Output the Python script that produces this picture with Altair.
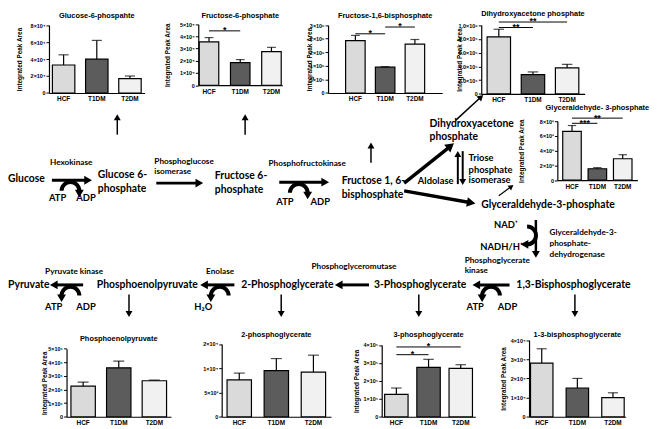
import math
import altair as alt
import pandas as pd

# ---------------- data ----------------
groups = ["HCF", "T1DM", "T2DM"]

g6p_mean = [3.3e4, 4.0e4, 1.7e4]
g6p_upper = [4.5e4, 6.2e4, 2.0e4]
f6p_mean = [3.55e4, 1.85e4, 2.75e4]
f6p_upper = [3.9e4, 2.1e4, 3.1e4]
f16bp_mean = [1.93e6, 0.95e6, 1.8e6]
f16bp_upper = [2.12e6, 0.97e6, 1.97e6]
dhap_mean = [8.3e5, 2.8e5, 3.8e5]
dhap_upper = [9.4e5, 3.2e5, 4.3e5]
g3p_mean = [6.6e3, 1.55e3, 2.9e3]
g3p_upper = [7.4e3, 1.7e3, 3.45e3]
pep_mean = [2.25e5, 3.6e5, 2.65e5]
pep_upper = [2.55e5, 4.1e5, 2.7e5]
pg2_mean = [7.6e3, 9.5e3, 9.2e3]
pg2_upper = [9.0e3, 1.2e4, 1.27e4]
pg3_mean = [1.25e5, 2.75e5, 2.7e5]
pg3_upper = [1.6e5, 3.2e5, 2.9e5]
bpg_mean = [2.8e4, 1.5e4, 1.0e4]
bpg_upper = [3.55e4, 2.0e4, 1.25e4]

g6p_ticks = [0, 2e4, 4e4, 6e4, 8e4]
g6p_labels = ["0", "2×10⁴", "4×10⁴", "6×10⁴", "8×10⁴"]
f6p_ticks = [0, 1e4, 2e4, 3e4, 4e4, 5e4]
f6p_labels = ["0", "1×10⁴", "2×10⁴", "3×10⁴", "4×10⁴", "5×10⁴"]
f16bp_ticks = [0, 5e5, 1e6, 1.5e6, 2e6, 2.5e6]
f16bp_labels = ["0", "5×10⁵", "1×10⁶", "2×10⁶", "2×10⁶", "3×10⁶"]
dhap_ticks = [0, 2e5, 4e5, 6e5, 8e5, 1e6]
dhap_labels = ["0", "2.0×10⁵", "4.0×10⁵", "6.0×10⁵", "8.0×10⁵", "1.0×10⁶"]
g3p_ticks = [0, 2e3, 4e3, 6e3, 8e3]
g3p_labels = ["0", "2×10³", "4×10³", "6×10³", "8×10³"]
pep_ticks = [0, 1e5, 2e5, 3e5, 4e5, 5e5]
pep_labels = ["0", "1×10⁵", "2×10⁵", "3×10⁵", "4×10⁵", "5×10⁵"]
pg2_ticks = [0, 5e3, 1e4, 1.5e4]
pg2_labels = ["0", "5×10³", "1×10⁴", "2×10⁴"]
pg3_ticks = [0, 1e5, 2e5, 3e5, 4e5]
pg3_labels = ["0", "1×10⁵", "2×10⁵", "3×10⁵", "4×10⁵"]
bpg_ticks = [0, 1e4, 2e4, 3e4, 4e4]
bpg_labels = ["0", "1×10⁴", "2×10⁴", "3×10⁴", "4×10⁴"]

f6p_sig = [("HCF", "T1DM", 4.45e4, "*")]
f16bp_sig = [("HCF", "T1DM", 2.18e6, "*"), ("T1DM", "T2DM", 2.43e6, "*")]
dhap_sig = [("HCF", "T1DM", 9.65e5, "**"), ("HCF", "T2DM", 1.045e6, "**")]
g3p_sig = [("HCF", "T1DM", 7.7e3, "***"), ("HCF", "T2DM", 8.4e3, "**")]
pg3_sig = [("HCF", "T1DM", 3.46e5, "*"), ("HCF", "T2DM", 3.89e5, "*")]

# ---------------- layout / style ----------------
W, H = 652, 421          # drawable area inside the 8px page margin
REF_W, REF_H = 660, 429  # layout coordinates below are figure pixels


def TX(x):
    return x * W / REF_W


def TY(y):
    return y * H / REF_H


FONT = "Liberation Sans"
DFONT = "Lato"
fills = ["#dadada", "#5c5c5c", "#f1f1f1"]

panels = [
    ("Glucose-6-phospahte", g6p_mean, g6p_upper, g6p_ticks, g6p_labels, [],
     dict(ax=42, c1=57, s=34, bw=23, yt=15, yb=85, ty=6, ytx=12)),
    ("Fructose-6-phosphate", f6p_mean, f6p_upper, f6p_ticks, f6p_labels, f6p_sig,
     dict(ax=195, c1=206, s=32, bw=20, yt=14, yb=77, ty=6, ytx=163)),
    ("Fructose-1,6-bisphosphate", f16bp_mean, f16bp_upper, f16bp_ticks, f16bp_labels, f16bp_sig,
     dict(ax=328, c1=356, s=30.5, bw=20, yt=15, yb=85, ty=6, ytx=309)),
    ("Dihydroxyacetone phosphate", dhap_mean, dhap_upper, dhap_ticks, dhap_labels, dhap_sig,
     dict(ax=485, c1=503, s=35, bw=24, yt=15, yb=86, ty=3.5, ytx=463)),
    ("Glyceraldehyde- 3-phosphate", g3p_mean, g3p_upper, g3p_ticks, g3p_labels, g3p_sig,
     dict(ax=563, c1=578, s=26, bw=19, yt=114, yb=175, ty=101, ytx=526)),
    ("Phosphoenolpyruvate", pep_mean, pep_upper, pep_ticks, pep_labels, [],
     dict(ax=60, c1=77, s=36.5, bw=25, yt=349, yb=419, ty=339, ytx=37)),
    ("2-phosphoglycerate", pg2_mean, pg2_upper, pg2_ticks, pg2_labels, [],
     dict(ax=219, c1=237, s=38, bw=25, yt=344, yb=419, ty=335, ytx=None)),
    ("3-phosphoglycerate", pg3_mean, pg3_upper, pg3_ticks, pg3_labels, pg3_sig,
     dict(ax=383, c1=398, s=33, bw=24, yt=345, yb=419, ty=335, ytx=357)),
    ("1-3-bisphosphoglycerate", bpg_mean, bpg_upper, bpg_ticks, bpg_labels, [],
     dict(ax=534, c1=547, s=36.5, bw=23, yt=340, yb=419, ty=335, ytx=508)),
]


def label_expr(ticks, labels):
    expr = "''"
    for v, l in reversed(list(zip(ticks, labels))):
        expr = f"datum.value == {float(v)!r} ? '{l}' : ({expr})"
    return expr


def make_panel(title, mean, upper, ticks, labels, sig, L):
    df = pd.DataFrame({"group": groups, "mean": mean, "upper": upper})
    ax, c1, s, bw = TX(L["ax"]), TX(L["c1"]), TX(L["s"]), TX(L["bw"])
    yt, yb = TY(L["yt"]), TY(L["yb"])
    pin = 1 - bw / s
    pout = max(0.0, (c1 - ax) / s - bw / (2 * s))
    r0 = ax
    r1 = 2 * c1 + 2 * s - ax
    xs = alt.Scale(domain=groups, range=[r0, r1], paddingInner=pin, paddingOuter=pout)
    ys = alt.Scale(domain=[0, ticks[-1]], range=[yb, yt], nice=False, zero=False)
    xaxis = alt.Axis(orient="bottom", offset=yb - H, title=None, ticks=False,
                     labelAngle=0, labelFont=FONT, labelFontSize=6.5, labelFontWeight="bold",
                     labelColor="black", labelPadding=3, domainColor="black", domainWidth=1.2,
                     grid=False)
    yargs = dict(orient="left", offset=-ax, values=ticks, labelExpr=label_expr(ticks, labels),
                 grid=False, tickSize=3, tickColor="black", tickWidth=1, domainColor="black",
                 domainWidth=1.2, labelFont=FONT, labelFontSize=5.5, labelFontWeight="bold",
                 labelColor="black", labelPadding=1)
    if L["ytx"] is not None:
        yargs.update(title="Integrated Peak Area", titleX=TX(L["ytx"]) - ax,
                     titleY=(yt + yb) / 2, titleAngle=270, titleFont=FONT,
                     titleFontSize=6.5, titleFontWeight="bold", titleColor="black",
                     titleAlign="center", titleBaseline="middle")
    else:
        yargs.update(title=None)
    yaxis = alt.Axis(**yargs)
    fill = alt.Fill("group:N", scale=alt.Scale(domain=groups, range=fills), legend=None)

    bars = alt.Chart(df).mark_bar(stroke="black", strokeWidth=1.2).encode(
        x=alt.X("group:N", scale=xs, axis=xaxis, sort=groups),
        y=alt.Y("mean:Q", scale=ys, axis=yaxis),
        fill=fill,
    )
    err = alt.Chart(df).mark_rule(color="black", strokeWidth=1.2).encode(
        x=alt.X("group:N", scale=xs, axis=None, sort=groups),
        y=alt.Y("mean:Q", scale=ys, axis=None),
        y2="upper:Q",
    )
    cap = alt.Chart(df).mark_tick(color="black", thickness=1.2, size=bw * 0.45,
                                  orient="horizontal").encode(
        x=alt.X("group:N", scale=xs, axis=None, sort=groups),
        y=alt.Y("upper:Q", scale=ys, axis=None),
    )
    ttl = alt.Chart(pd.DataFrame({"t": [title]})).mark_text(
        font=FONT, fontSize=7.5, fontWeight="bold", align="center", baseline="middle",
        color="black").encode(
        x=alt.value(c1 + s), y=alt.value(TY(L["ty"])), text="t:N")
    layers = [bars, err, cap, ttl]
    if sig:
        bdf = pd.DataFrame({
            "a": [groups.index(a) for a, b, v, t in sig],
            "b": [groups.index(b) for a, b, v, t in sig],
            "v": [v for a, b, v, t in sig],
            "lab": [t for a, b, v, t in sig],
        })
        bdf["m"] = (bdf["a"] + bdf["b"]) / 2
        lx = alt.Scale(domain=[0, 2], range=[c1, c1 + 2 * s], nice=False, zero=False)
        rule = alt.Chart(bdf).mark_rule(color="black", strokeWidth=1).encode(
            x=alt.X("a:Q", scale=lx, axis=None), x2="b:Q",
            y=alt.Y("v:Q", scale=ys, axis=None))
        stars = alt.Chart(bdf).mark_text(font=FONT, fontSize=9, fontWeight="bold",
                                         baseline="alphabetic", dy=2.5, color="black").encode(
            x=alt.X("m:Q", scale=lx, axis=None), y=alt.Y("v:Q", scale=ys, axis=None), text="lab:N")
        layers += [rule, stars]
    return alt.layer(*layers).resolve_scale(x="independent", y="independent")


# ---------------- pathway diagram ----------------
# (x1, y1, x2, y2, stroke width, head size)  in figure pixels
arrow_specs = [
    (45, 175, 86, 175, 3, 9), (152, 178, 200, 178, 3, 9), (278, 177, 329, 177, 3, 9),
    (406, 178, 457, 137, 3.5, 10), (406, 186, 479, 199, 3.5, 10),
    (461, 179, 461, 145, 2, 7), (466, 145, 466, 180, 2, 7),
    (541, 216, 541, 255, 2.5, 8),
    (514, 283, 476, 283, 3, 9), (370, 283, 335, 283, 3, 9), (232, 283, 197, 283, 3, 9),
    (77, 283, 43, 283, 3, 9),
    (112, 128, 112, 107, 1.5, 7), (243, 128, 243, 107, 1.5, 7), (372, 157, 372, 136, 1.5, 7),
    (459, 113, 487, 87, 1.5, 7), (503, 191, 518, 180, 1.2, 6),
    (124, 293, 124, 316, 1.5, 7), (280, 293, 280, 316, 1.5, 7), (421, 293, 421, 316, 1.5, 7),
    (581, 293, 581, 316, 1.5, 7),
]
# (cx, cy, outer radius, thickness, start angle, end angle, head at)
arc_specs = [
    (64, 186, 11, 4, 1.5 * math.pi, 2.5 * math.pi, "end"),
    (298, 188, 11, 4, 1.5 * math.pi, 2.5 * math.pi, "end"),
    (64, 294, 11, 4, 1.5 * math.pi, 2.5 * math.pi, "start"),
    (217, 294, 11, 4, 1.5 * math.pi, 2.5 * math.pi, "start"),
    (495, 294, 11, 4, 1.5 * math.pi, 2.5 * math.pi, "start"),
    (532, 232, 11, 4, 0.0, math.pi, "end"),
]

lines, heads, arcs = [], [], []
for x1, y1, x2, y2, w, hd in arrow_specs:
    x1, y1, x2, y2 = TX(x1), TY(y1), TX(x2), TY(y2)
    L = math.hypot(x2 - x1, y2 - y1)
    ux, uy = (x2 - x1) / L, (y2 - y1) / L
    hx, hy = x2 - ux * 0.43 * hd, y2 - uy * 0.43 * hd
    lines.append(dict(x1=x1, y1=y1, x2=hx, y2=hy, w=w))
    heads.append(dict(x=hx, y=hy, ang=math.degrees(math.atan2(ux, -uy)) % 360, sz=hd * hd))
for cx, cy, ro, th, t1, t2, at in arc_specs:
    cx, cy = TX(cx), TY(cy)
    arcs.append(dict(cx=cx, cy=cy, ro=ro, ri=ro - th, t1=t1, t2=t2))
    rm = ro - th / 2
    t = t2 if at == "end" else t1
    px, py = cx + rm * math.sin(t), cy - rm * math.cos(t)
    ux, uy = (math.cos(t), math.sin(t)) if at == "end" else (-math.cos(t), -math.sin(t))
    hd = 9
    heads.append(dict(x=px + ux * 0.3 * hd, y=py + uy * 0.3 * hd,
                      ang=math.degrees(math.atan2(ux, -uy)) % 360, sz=hd * hd))

big_text = [
    ("Glucose", 0, 174), ("Glucose 6-", 92, 170), ("phosphate", 92, 184),
    ("Fructose 6-", 212, 171), ("phosphate", 212, 185),
    ("Fructose 1, 6-", 342, 176), ("bisphosphate", 342, 190),
    ("Dihydroxyacetone", 432, 117), ("phosphate", 432, 130),
    ("Glyceraldehyde-3-phosphate", 485, 201),
    ("Pyruvate", 0, 283), ("Phosphoenolpyruvate", 91, 283), ("2-Phosphoglycerate", 239, 283),
    ("3-Phosphoglycerate", 375, 283), ("1,3-Bisphosphoglycerate", 521, 283),
]
mid_text = [
    ("ATP", 42, 193), ("ADP", 70, 193), ("ATP", 275, 197), ("ADP", 310, 197),
    ("ATP", 38, 306), ("ADP", 70, 306), ("ATP", 470, 306), ("ADP", 502, 306),
    ("H₂O", 191, 306), ("NAD⁺", 498, 221), ("NADH/H⁺", 484, 244),
    ("Aldolase", 420, 176), ("Triose", 472, 152), ("phosphate", 472, 164), ("isomerase", 472, 175),
]
small_text = [
    ("Hexokinase", 43, 157), ("Phosphoglucose", 150, 156), ("isomerase", 150, 167),
    ("Phosphofructokinase", 267, 158), ("Pyruvate kinase", 38, 270), ("Enolase", 203, 270),
    ("Phosphoglyceromutase", 311, 265), ("Phosphoglycerate", 468, 258), ("kinase", 468, 269),
    ("Glyceraldehyde-3-", 555, 230), ("phosphate-", 555, 241), ("dehydrogenase", 555, 252),
]


def text_layer(items, size):
    df = pd.DataFrame({"t": [a for a, b, c in items], "x": [TX(b) for a, b, c in items],
                       "y": [TY(c) for a, b, c in items]})
    return alt.Chart(df).mark_text(font=DFONT, fontWeight="bold", fontSize=size, align="left",
                                   baseline="middle", color="black").encode(
        x=alt.X("x:Q", scale=None), y=alt.Y("y:Q", scale=None), text="t:N")


line_layer = alt.Chart(pd.DataFrame(lines)).mark_rule(color="black").encode(
    x=alt.X("x1:Q", scale=None), y=alt.Y("y1:Q", scale=None), x2="x2:Q", y2="y2:Q",
    strokeWidth=alt.StrokeWidth("w:Q", scale=None, legend=None))
head_layer = alt.Chart(pd.DataFrame(heads)).mark_point(
    shape="triangle-up", filled=True, color="black", opacity=1, strokeWidth=0).encode(
    x=alt.X("x:Q", scale=None), y=alt.Y("y:Q", scale=None),
    angle=alt.Angle("ang:Q", scale=None), size=alt.Size("sz:Q", scale=None, legend=None))
arc_layer = alt.Chart(pd.DataFrame(arcs)).mark_arc(color="black").encode(
    x=alt.X("cx:Q", scale=None), y=alt.Y("cy:Q", scale=None),
    theta=alt.Theta("t1:Q", scale=None, stack=None), theta2="t2:Q",
    radius=alt.Radius("ro:Q", scale=None), radius2="ri:Q")

diagram = [line_layer, head_layer, arc_layer,
           text_layer(big_text, 10.5), text_layer(mid_text, 9.5), text_layer(small_text, 8.3)]

chart = alt.layer(*diagram, *[make_panel(*p) for p in panels]).resolve_scale(
    x="independent", y="independent").properties(
    width=W, height=H, autosize=alt.AutoSizeParams(type="none"), padding=0,
    background="white").configure_view(stroke=None)

chart.save("out.html", embed_options={"renderer": "svg", "actions": False})
